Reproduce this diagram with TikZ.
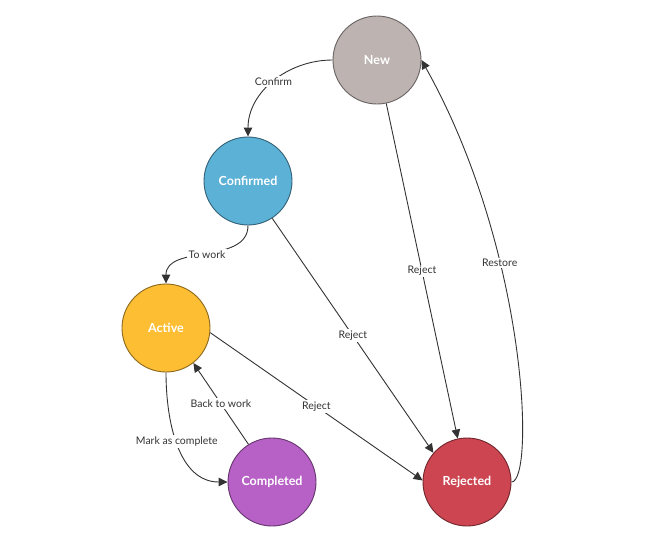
\documentclass[tikz,border=0pt]{standalone}
\usepackage{fontspec}
\setmainfont{Lato}
\usetikzlibrary{arrows.meta}
\definecolor{cnew}{HTML}{BDB4B2}
\definecolor{cconf}{HTML}{5CB1D6}
\definecolor{cact}{HTML}{FDBE33}
\definecolor{ccomp}{HTML}{B761C6}
\definecolor{crej}{HTML}{CC4551}
\definecolor{cline}{HTML}{333333}
\tikzset{
  every picture/.style={x=1pt, y=1pt, line width=0.9pt},
  stnode/.style={circle, draw=#1!55!black, fill=#1, minimum size=88pt, inner sep=0pt, text=white, font=\bfseries\fontsize{12.5}{15}\selectfont},
  trans/.style={-{Triangle[length=9pt, width=8.5pt]}, draw=cline},
  lbl/.style={fill=white, text=cline, inner sep=1.5pt, font=\fontsize{10.5}{12}\selectfont},
}

\begin{document}
\begin{tikzpicture}
  \useasboundingbox (0,0) rectangle (648,-544);
  \foreach \n/\t/\c/\x/\y in {new/New/cnew/377/60, confirmed/Confirmed/cconf/248/181, active/Active/cact/166/328, completed/Completed/ccomp/272/482, rejected/Rejected/crej/467/482}
    \node[stnode=\c] (\n) at (\x,-\y) {\t};
  \draw[trans] (new.west) to[out=180, in=90] node[lbl, pos=0.5] {Confirm} (confirmed.north);
  \draw[trans] (confirmed.south) to[out=-90, in=90] node[lbl, pos=0.5] {To work} (active.north);
  \draw[trans] (confirmed.-57) -- node[lbl] {Reject} (rejected.139);
  \draw[trans] (new) -- node[lbl] {Reject} (rejected);
  \draw[trans] (active.-6) -- node[lbl] {Reject} (rejected.178);
  \draw[trans] (active.south) to[out=-90, in=180] node[lbl, pos=0.47] {Mark as complete} (completed.west);
  \draw[trans] (completed.122) -- node[lbl] {Back to work} (active.-52);
  % restore loops back up the right side
  \draw[trans] (rejected.east) .. controls (535,-482) and (528,-250) .. node[lbl, pos=0.65] {Restore} (new.east);
\end{tikzpicture}
\end{document}
